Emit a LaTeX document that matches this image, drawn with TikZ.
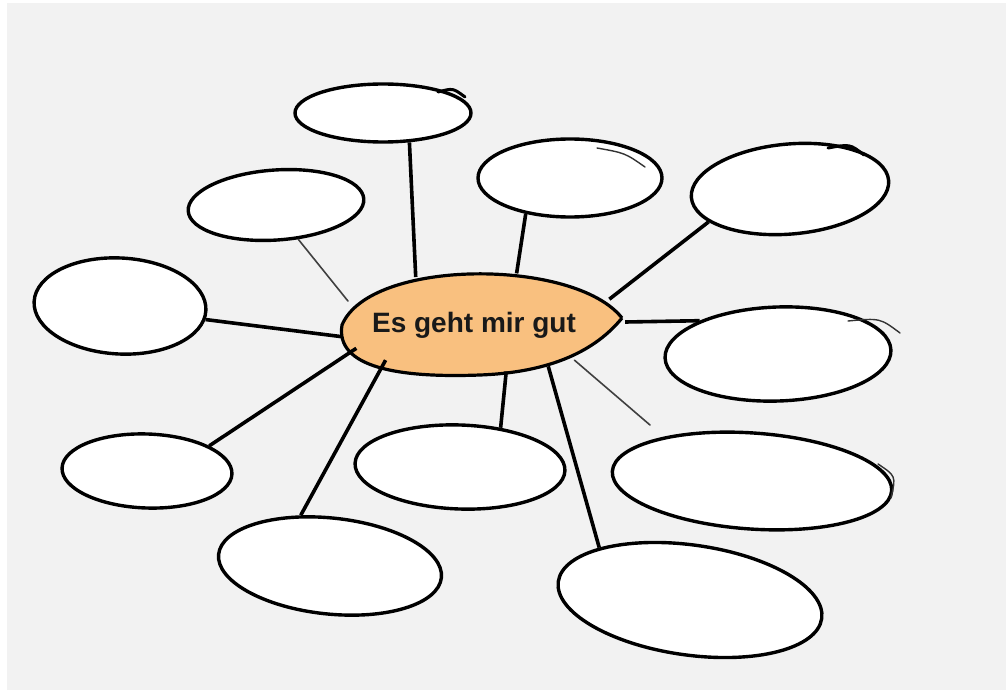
\documentclass[tikz,border=0pt]{standalone}
\usepackage{fontspec}
\setmainfont{Liberation Sans}
\usetikzlibrary{shapes.geometric}
\definecolor{bg}{HTML}{F2F2F2}
\definecolor{peach}{HTML}{F9C07F}
\tikzset{
  bubble/.style={ellipse, draw=black, fill=white, line width=3.4pt, inner sep=0pt},
  thick link/.style={draw=black, line width=3.6pt},
  thin link/.style={draw=black!75, line width=1.6pt, line cap=round},
  tail/.style={draw=black, line width=3pt, line cap=round},
  thin tail/.style={draw=black!80, line width=1.4pt, line cap=round},
}
\begin{document}
\begin{tikzpicture}[x=1pt,y=-1pt]
\useasboundingbox (0,0) rectangle (1006,690);
\fill[white] (0,0) rectangle (1006,690);
\fill[bg] (7,3) rectangle (1006,690);

% central node
\node[ellipse, minimum width=290pt, minimum height=100pt, inner sep=0pt] (c) at (480,322) {};
\draw[line width=3.2pt, fill=peach] (622,318) .. controls (575,258) and (370,258) .. (342,325)
  .. controls (335,368) and (400,378) .. (480,375) .. controls (560,372) and (600,345) .. (622,318);
\node[anchor=base, font=\bfseries\fontsize{28}{30}\selectfont, text=black!90] (t) at (474,332) {Es geht mir gut};

% bubbles
\node[bubble, minimum width=176pt, minimum height=58pt] (e1) at (383,113) {};
\node[bubble, minimum width=176pt, minimum height=70pt, rotate=4] (e2) at (276,205) {};
\node[bubble, minimum width=184pt, minimum height=78pt] (e3) at (570,178) {};
\node[bubble, minimum width=198pt, minimum height=90pt, rotate=5] (e4) at (790,189) {};
\node[bubble, minimum width=172pt, minimum height=96pt, rotate=-3] (e5) at (120,306) {};
\node[bubble, minimum width=226pt, minimum height=94pt, rotate=2] (e6) at (778,354) {};
\node[bubble, minimum width=170pt, minimum height=74pt, rotate=-2] (e7) at (147,471) {};
\node[bubble, minimum width=210pt, minimum height=84pt, rotate=-2] (e8) at (460,467) {};
\node[bubble, minimum width=280pt, minimum height=96pt, rotate=-4] (e9) at (752,481) {};
\node[bubble, minimum width=224pt, minimum height=96pt, rotate=-6] (e10) at (330,566) {};
\node[bubble, minimum width=266pt, minimum height=110pt, rotate=-8] (e11) at (690,600) {};

% sketchy overshoot strokes
\draw[tail] (438,92) .. controls (453,88) .. (465,97);
\draw[thin tail] (597,148) .. controls (625,153) .. (645,167);
\draw[tail] (828,148) .. controls (850,144) .. (864,155);
\draw[thin tail] (848,321) .. controls (880,318) .. (900,333);
\draw[thin tail] (878,464) .. controls (896,476) .. (891,498);

\coordinate (f9) at (650,425);

% connectors
\draw[thick link] (e1.-48) -- (c.145);
\draw[thin link] (e2.-61) -- (c.171);
\draw[thick link] (e3.219) -- (c.53);
\draw[thick link] (e4.197) -- (c.10);
\draw[thick link] (e5.-6) -- (c.186);
\draw[thick link] (e6.155) -- (c.0);
\draw[thick link] (e7.24) -- (c.192);
\draw[thick link] (c.202) -- (e10.126);
\draw[thick link] (c.-62) -- (e8.46);
\draw[thick link] (c.-33) -- (e11.158);
\draw[thin link] (c.-22) -- (f9);
\end{tikzpicture}
\end{document}
